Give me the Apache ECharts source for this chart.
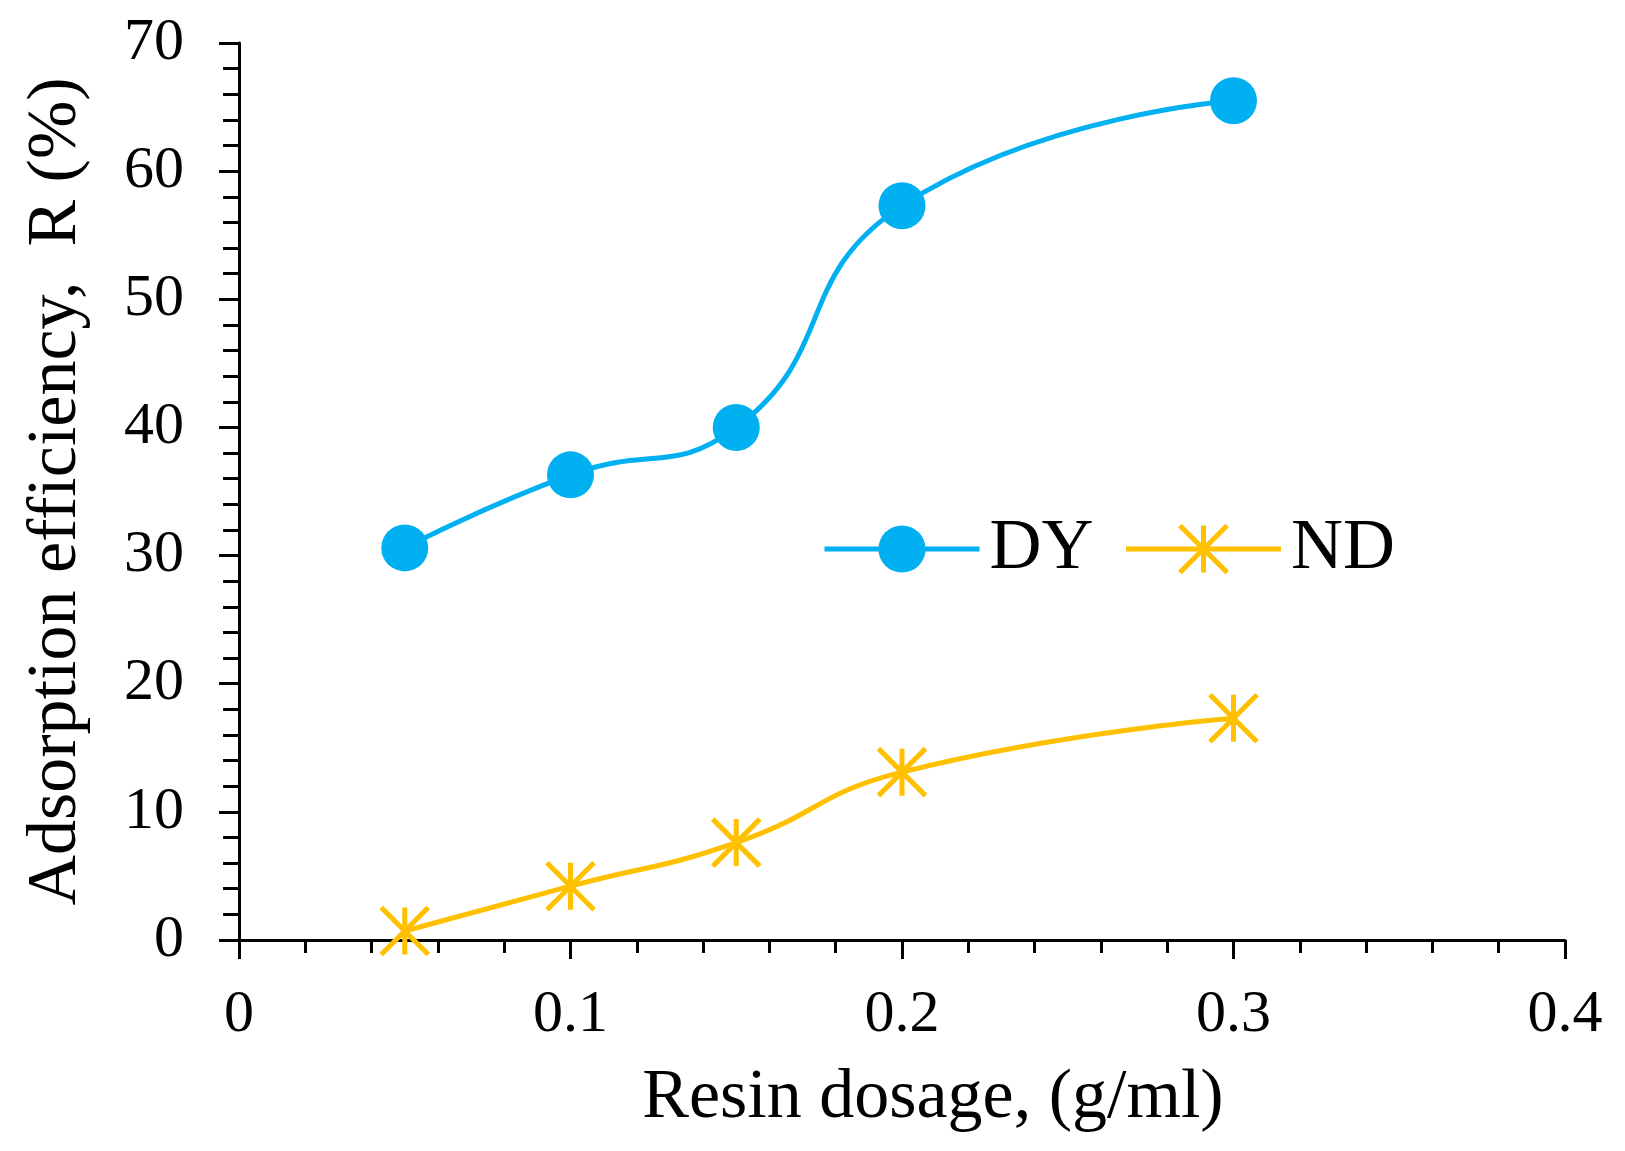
<!DOCTYPE html>
<html>
<head>
<meta charset="utf-8">
<script src="https://cdn.jsdelivr.net/npm/echarts@6/dist/echarts.min.js"></script>
<style>
  html, body { margin: 0; padding: 0; background: #fff; }
  #main { width: 1625px; height: 1151px; }
</style>
</head>
<body>
<div id="main"></div>
<script>
// resin dosage (g/ml)
var dosage = [0.05, 0.1, 0.15, 0.2, 0.3];
// adsorption efficiency R (%)
var dyValues = [30.6, 36.3, 40.0, 57.3, 65.5];
var ndValues = [0.7, 4.2, 7.6, 13.1, 17.3];
var seriesNames = ['DY', 'ND'];

var serif = "'Liberation Serif', 'Times New Roman', serif";
var asterisk = 'path://M50,0L50,100M0,0L100,100M100,0L0,100';

function pairs(xs, ys) {
    var out = [];
    for (var i = 0; i < xs.length; i++) {
        out.push([xs[i], ys[i]]);
    }
    return out;
}

var myChart = echarts.init(document.getElementById('main'));
var option = {
    animation: false,
    backgroundColor: '#fff',
    grid: {
        left: 239,
        right: 60,
        top: 43,
        bottom: 211
    },
    legend: {
        data: [
            { name: seriesNames[0] },
            { name: seriesNames[1], itemStyle: { borderColor: '#FFC000', borderWidth: 5 } }
        ],
        left: 817,
        top: 508,
        itemWidth: 155,
        itemHeight: 59,
        itemGap: 30,
        lineStyle: { width: 5 },
        textStyle: {
            fontFamily: serif,
            fontSize: 72,
            color: '#000',
            padding: [0, 0, 0, 5]
        }
    },
    xAxis: {
        type: 'value',
        min: 0,
        max: 0.4,
        interval: 0.1,
        name: 'Resin dosage, (g/ml)',
        nameLocation: 'middle',
        nameGap: 124,
        nameTextStyle: {
            fontFamily: serif,
            fontSize: 70,
            color: '#000',
            padding: [0, 0, 0, 62]
        },
        axisLine: { lineStyle: { color: '#000', width: 3 } },
        axisTick: { inside: false, length: 19, lineStyle: { color: '#000', width: 3 } },
        minorTick: { show: true, splitNumber: 5, length: 13, lineStyle: { color: '#000', width: 3 } },
        splitLine: { show: false },
        axisLabel: {
            margin: 45,
            fontFamily: serif,
            fontSize: 60,
            color: '#000'
        }
    },
    yAxis: {
        type: 'value',
        min: 0,
        max: 70,
        interval: 10,
        name: 'Adsorption efficiency,  R (%)',
        nameLocation: 'middle',
        nameGap: 147,
        nameTextStyle: {
            fontFamily: serif,
            fontSize: 70,
            color: '#000'
        },
        axisLine: { lineStyle: { color: '#000', width: 3 } },
        axisTick: { inside: false, length: 20, lineStyle: { color: '#000', width: 3 } },
        minorTick: { show: true, splitNumber: 5, length: 16, lineStyle: { color: '#000', width: 3 } },
        splitLine: { show: false },
        axisLabel: {
            margin: 55,
            fontFamily: serif,
            fontSize: 60,
            color: '#000'
        }
    },
    series: [
        {
            name: seriesNames[0],
            type: 'line',
            data: pairs(dosage, dyValues),
            smooth: 0.5,
            symbol: 'circle',
            symbolSize: 47,
            showAllSymbol: true,
            lineStyle: { color: '#00B0F0', width: 5 },
            itemStyle: { color: '#00B0F0' }
        },
        {
            name: seriesNames[1],
            type: 'line',
            data: pairs(dosage, ndValues),
            smooth: 0.5,
            symbol: asterisk,
            symbolSize: 47,
            showAllSymbol: true,
            lineStyle: { color: '#FFC000', width: 5 },
            itemStyle: { color: '#FFC000', borderColor: '#FFC000', borderWidth: 5 }
        }
    ]
};
myChart.setOption(option);
</script>
</body>
</html>
